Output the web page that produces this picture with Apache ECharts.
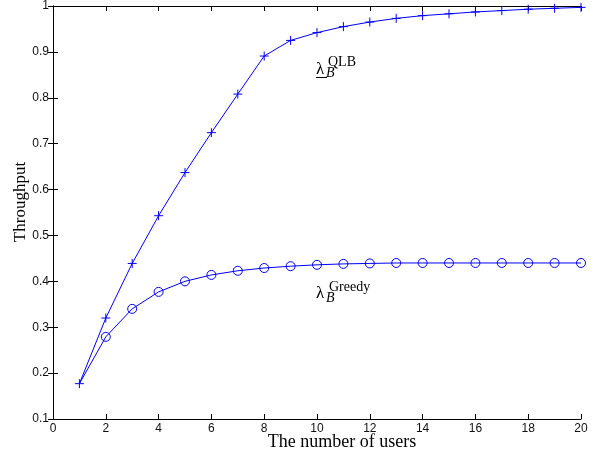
<!DOCTYPE html>
<html>
<head>
<meta charset="utf-8">
<script src="https://cdn.jsdelivr.net/npm/echarts@6/dist/echarts.min.js"></script>
<style>html,body{margin:0;padding:0;background:#fff;}#c{width:598px;height:455px;}</style>
</head>
<body>
<div id="c"></div>
<script>
const users = [1,2,3,4,5,6,7,8,9,10,11,12,13,14,15,16,17,18,19,20];
const qlb = [0.177,0.320,0.439,0.543,0.637,0.724,0.808,0.891,0.925,0.942,0.955,0.965,0.973,0.979,0.983,0.987,0.990,0.993,0.995,0.997];
const greedy = [0.177,0.279,0.340,0.377,0.400,0.414,0.423,0.429,0.433,0.436,0.438,0.439,0.440,0.440,0.440,0.440,0.440,0.440,0.440,0.440];
const xTicks = {min:0, max:20, interval:2};
const yTicks = {min:0.1, max:1, interval:0.1};

const chart = echarts.init(document.getElementById('c'), null, {renderer:'canvas'});
const blue = '#0000ff';
const tickFont = {fontFamily:'Liberation Sans', fontSize:12, color:'#111'};
const lineBlack = {show:true, lineStyle:{color:'#000', width:1}};
const plus = 'path://M0,5L10,5M5,0L5,10';
chart.setOption({
  animation:false,
  backgroundColor:'#fff',
  grid:{left:53, right:17, top:5, bottom:36, containLabel:false},
  xAxis:[
    {type:'value', min:xTicks.min, max:xTicks.max, interval:xTicks.interval, position:'bottom',
     axisLine:lineBlack, axisTick:{show:true, inside:true, length:5, lineStyle:{color:'#000'}},
     axisLabel:Object.assign({margin:4}, tickFont), splitLine:{show:false}},
    {type:'value', min:xTicks.min, max:xTicks.max, interval:xTicks.interval, position:'top',
     axisLine:lineBlack, axisTick:{show:true, inside:true, length:5, lineStyle:{color:'#000'}},
     axisLabel:{show:false}, splitLine:{show:false}}
  ],
  yAxis:[
    {type:'value', min:yTicks.min, max:yTicks.max, interval:yTicks.interval, position:'left',
     axisLine:lineBlack, axisTick:{show:true, inside:true, length:5, lineStyle:{color:'#000'}},
     axisLabel:Object.assign({margin:4, formatter:v=>String(+v.toFixed(1))}, tickFont), splitLine:{show:false}},
    {type:'value', min:yTicks.min, max:yTicks.max, interval:yTicks.interval, position:'right',
     axisLine:lineBlack, axisTick:{show:true, inside:true, length:5, lineStyle:{color:'#000'}},
     axisLabel:{show:false}, splitLine:{show:false}}
  ],
  series:[
    {type:'line', name:'Greedy', data:users.map((u,i)=> i===0 ? {value:[u,greedy[i]], symbol:'none'} : [u,greedy[i]]), symbol:'circle', symbolSize:9,
     lineStyle:{color:blue, width:1}, itemStyle:{color:'none', borderColor:blue, borderWidth:1}},
    {type:'line', name:'QLB', data:users.map((u,i)=>[u,qlb[i]]), symbol:plus, symbolSize:9,
     lineStyle:{color:blue, width:1}, itemStyle:{color:'none', borderColor:blue, borderWidth:1}}
  ],
  graphic:[
    {type:'text', x:342, y:442, style:{text:'The number of users', font:'18px "Liberation Serif"', fill:'#000', align:'center', verticalAlign:'middle'}},
    {type:'text', x:21, y:202, rotation:Math.PI/2, style:{text:'Throughput', font:'17px "Liberation Serif"', fill:'#000', align:'center', verticalAlign:'middle'}},
    {type:'text', x:316, y:70, style:{text:'λ', font:'17px "Liberation Serif"', fill:'#000', align:'left', verticalAlign:'middle'}},
    {type:'line', shape:{x1:316, y1:77.5, x2:327, y2:77.5}, style:{stroke:'#000', lineWidth:1}},
    {type:'text', x:326, y:73, style:{text:'B', font:'italic 14px "Liberation Serif"', fill:'#000', align:'left', verticalAlign:'middle'}},
    {type:'text', x:328, y:62, style:{text:'QLB', font:'14px "Liberation Serif"', fill:'#000', align:'left', verticalAlign:'middle'}},
    {type:'text', x:316, y:294, style:{text:'λ', font:'17px "Liberation Serif"', fill:'#000', align:'left', verticalAlign:'middle'}},
    {type:'text', x:326, y:298, style:{text:'B', font:'italic 14px "Liberation Serif"', fill:'#000', align:'left', verticalAlign:'middle'}},
    {type:'text', x:329, y:287, style:{text:'Greedy', font:'14px "Liberation Serif"', fill:'#000', align:'left', verticalAlign:'middle'}}
  ]
});
</script>
</body>
</html>
